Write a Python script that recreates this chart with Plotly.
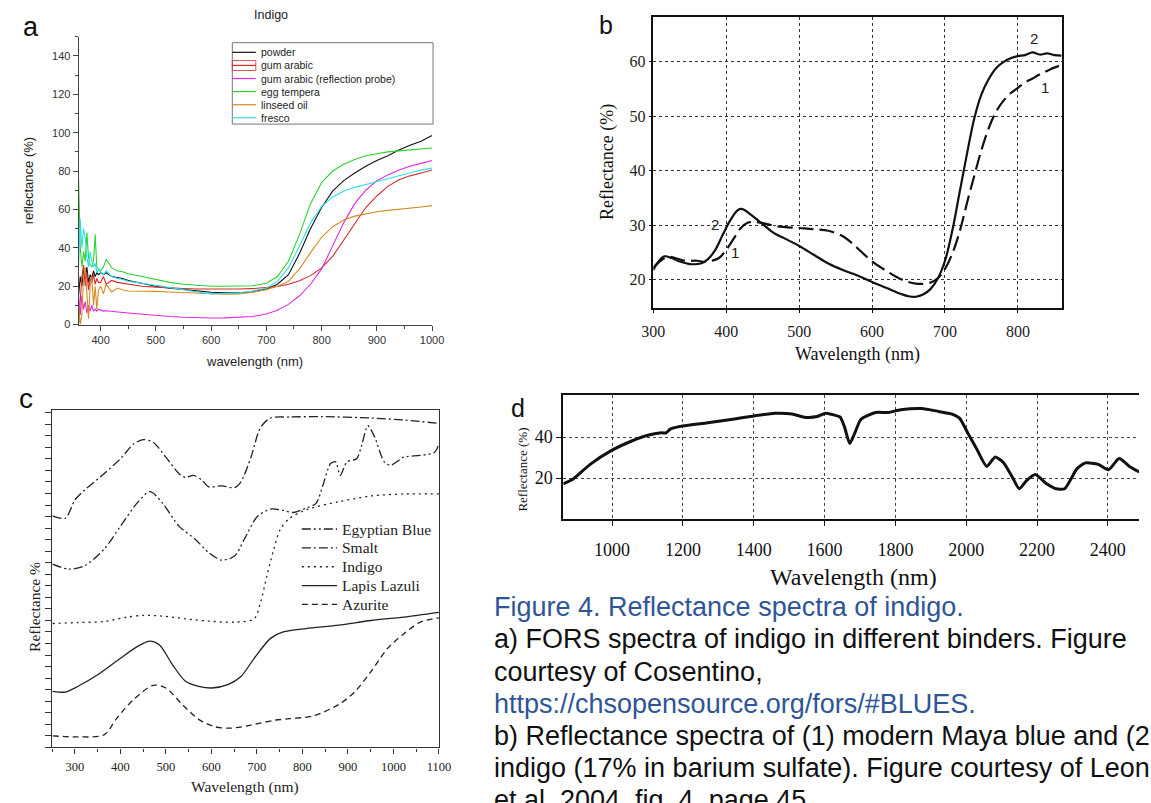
import plotly.graph_objects as go

W, H = 1151, 803

# ---------------- Panel a : FORS spectra of indigo in binders ----------------
A_WL = [360, 363, 366, 369, 372, 375, 378, 381, 384, 387, 390, 393, 396, 400,
        405, 410, 420, 430, 440, 450, 475, 500, 525, 550, 575, 600, 625, 650, 675,
        700, 720, 740, 760, 780, 800, 820, 840, 860, 880, 900, 920, 940, 960, 980, 1000]
A_NAMES = ["powder", "gum arabic", "gum arabic (reflection probe)", "egg tempera",
           "linseed oil", "fresco"]
A_POWDER = [15, 25, 20, 28, 24, 30, 22, 26, 24, 28, 25, 27, 26, 27,
            26, 27, 25, 24.5, 24, 23, 21.5, 20, 19, 18.2, 17.5, 16.8, 16.5, 16.5, 17,
            18.5, 21, 26, 37, 50, 61, 69.5, 75, 79, 82.5, 85.5, 88, 91, 93.5, 95.5, 98.5]
A_GUM = [0, 15, 25, 31, 20, 27, 18, 24, 22, 26, 21, 24, 22, 22,
         25, 21, 23, 22, 21.5, 21, 20, 19.5, 19, 18.8, 18.5, 18.4, 18.4, 18.5, 18.7,
         19.2, 19.8, 21, 22.8, 25.5, 29.5, 35.5, 44, 53, 61, 67, 72, 75.5, 77.5, 79, 80.5]
A_PROBE = [15, 5, 15, 8, 12, 6, 10, 7, 10, 7, 8, 7, 8, 7.5,
           7, 7.2, 7, 6.8, 6.3, 6, 5.3, 4.7, 4.2, 3.8, 3.5, 3.4, 3.5, 3.7, 4.2,
           5.5, 7.5, 10.5, 15, 21, 29, 41, 53, 63, 70, 75, 78, 80.5, 82.5, 84, 85.5]
A_EGG = [76, 40, 30, 38, 33, 48, 35, 31, 30, 33, 47, 30, 29, 28,
         30, 34, 29.5, 28, 27.5, 26.5, 25, 23.5, 22, 21, 20.5, 20, 20, 20, 20.2,
         21.5, 25, 33, 47, 63, 74, 80, 83.5, 86, 88, 89, 90, 90.5, 91, 91.5, 92]
A_LINSEED = [10, 0, 5, 25, 30, 15, 3, 20, 25, 10, 20, 8, 18, 20,
             16, 21, 17, 19, 18, 17.5, 17.5, 17.3, 17, 16.7, 16.2, 15.8, 15.8, 16, 16.8,
             18.2, 20, 22.5, 29, 37.5, 45.5, 51, 54.5, 56.5, 57.8, 58.8, 59.5, 60, 60.8, 61.3, 62]
A_FRESCO = [30, 55, 40, 50, 45, 35, 30, 38, 33, 30, 32, 27, 29, 27,
            26, 28, 25, 24, 23.5, 22.5, 21.5, 20.5, 19.5, 18.2, 17, 16, 16.2, 16.5, 17.5,
            19, 22.5, 29.5, 41, 53, 61.5, 66.5, 69.5, 71.5, 73, 74.5, 76, 77.5, 79, 80.5, 81.5]
A_COLORS = ["#111111", "#d42a2a", "#e028e0", "#2ed12e", "#d68a22", "#28e0ea"]
A_SERIES = [A_POWDER, A_GUM, A_PROBE, A_EGG, A_LINSEED, A_FRESCO]

# ---------------- Panel b : Maya blue (1) and indigo (2) ----------------
B_WL1 = [300, 310, 320, 330, 340, 350, 360, 370, 380, 390, 400, 410, 420, 430, 440, 450,
         470, 500, 520, 540, 560, 570, 580, 600, 620, 640, 660, 680, 690, 700, 710, 720,
         730, 740, 750, 760, 770, 780, 790, 800, 810, 820, 830, 840, 850, 860]
B_R1 = [22.2, 23.5, 24.2, 24, 23.6, 23.5, 23.5, 23.3, 23.5, 24, 25.5, 27.5, 29.5, 30.5,
        30.6, 30.4, 29.8, 29.5, 29.3, 29, 28, 27, 25.8, 23.4, 21.6, 20.1, 19.3, 19.5, 20.3,
        22, 24.8, 28.8, 34, 39, 43.8, 47.8, 50.8, 52.8, 54.2, 55.2, 56.2, 56.9, 57.7, 58.3,
        58.9, 59.4]
B_WL2 = [300, 305, 315, 325, 335, 350, 365, 375, 385, 395, 405, 415, 420, 425, 435, 450,
         465, 480, 500, 520, 540, 560, 580, 600, 620, 640, 650, 660, 670, 680, 690, 700,
         710, 720, 730, 740, 750, 760, 770, 780, 790, 800, 810, 820, 830, 840, 850, 860]
B_R2 = [21.8, 23, 24.3, 24, 23.4, 22.9, 23, 23.8, 25.5, 28.2, 30.8, 32.7, 33, 32.8, 31.8,
        30.2, 28.6, 27.6, 26.2, 24.6, 23, 21.8, 20.8, 19.6, 18.5, 17.4, 17, 16.9, 17.3, 18.3,
        20.2, 23.5, 29, 36, 43, 49.5, 54, 56.8, 58.8, 59.9, 60.6, 61, 61.2, 61.7, 61.3, 61.5,
        61.2, 61.1]

# ---------------- Panel c : blue pigments ----------------
C_NAMES = ["Egyptian Blue", "Smalt", "Indigo", "Lapis Lazuli", "Azurite"]
C_EB_WL = [251, 286, 321, 364, 400, 436, 465, 493, 529, 565, 594, 622, 651, 672, 701, 730,
           758, 780, 808, 830, 844, 862, 873, 883, 898, 919, 930, 944, 959, 980, 994, 1023,
           1059, 1091, 1100]
C_EB_R = [54.3, 52.8, 53.8, 58.7, 65.5, 72.3, 75.8, 72.3, 65.5, 61.6, 57.7, 55.5, 56.7, 61.6,
          68.4, 70.6, 70.2, 69.6, 70.9, 72.3, 77.2, 84.1, 84.6, 80.6, 84.6, 85.5, 89.4, 95.3,
          91.9, 84.6, 83.6, 86, 86.5, 87.5, 90]
C_SM_WL = [251, 279, 300, 321, 364, 400, 429, 450, 472, 500, 529, 543, 561, 579, 594, 622,
           651, 665, 687, 708, 730, 772, 844, 951, 1023, 1100]
C_SM_R = [68.6, 67.9, 73.3, 76.2, 81.1, 85.5, 89.9, 91.2, 90.4, 86, 81.1, 80, 80.6, 79.2,
          77.2, 77.5, 77, 78.7, 86, 94.8, 97.6, 97.9, 98, 97.6, 97, 96]
C_IN_WL = [251, 307, 364, 415, 450, 493, 543, 594, 651, 694, 708, 722, 737, 751, 772, 808,
           880, 951, 1023, 1100]
C_IN_R = [36.7, 37, 37.3, 38.6, 39.1, 38.9, 38.1, 37.4, 37.1, 38.1, 43, 50.8, 58.7, 64.5,
          67.9, 70.4, 72.8, 74.5, 75.1, 75.1]
C_LL_WL = [251, 279, 307, 350, 400, 436, 465, 486, 515, 543, 572, 601, 636, 665, 694, 730,
           758, 808, 880, 951, 1023, 1100]
C_LL_R = [16.6, 16.4, 18.1, 21.5, 26.4, 29.8, 31.5, 30.3, 24.4, 19.6, 18.1, 17.6, 18.6, 21,
          26.4, 32.3, 34.2, 35.2, 36.2, 37.6, 38.6, 40]
C_AZ_WL = [251, 307, 364, 393, 429, 472, 500, 536, 572, 608, 644, 687, 737, 772, 823, 880,
           916, 951, 987, 1023, 1059, 1100]
C_AZ_R = [3.4, 3.1, 3.7, 8.8, 14.2, 18.4, 17.6, 12.7, 8.3, 6.1, 5.7, 6.6, 8, 8.5, 9.3, 12.7,
          16.6, 22.5, 29.3, 33.7, 37.1, 38.4]
C_DASHES = ["9px,3px,2px,3px,2px,3px", "9px,3px,2px,3px", "2px,4px", "solid", "6px,4px"]
C_SERIES = [(C_EB_WL, C_EB_R), (C_SM_WL, C_SM_R), (C_IN_WL, C_IN_R),
            (C_LL_WL, C_LL_R), (C_AZ_WL, C_AZ_R)]

# ---------------- Panel d : NIR spectrum ----------------
D_WL = [862, 891, 938, 1000, 1057, 1104, 1140, 1152, 1165, 1199, 1270, 1341, 1401, 1460,
        1508, 1543, 1579, 1603, 1626, 1644, 1656, 1671, 1685, 1703, 1744, 1780, 1815, 1874,
        1922, 1958, 1981, 2005, 2029, 2058, 2082, 2106, 2130, 2150, 2171, 2195, 2225, 2254,
        2278, 2313, 2337, 2373, 2402, 2432, 2461, 2489]
D_R = [17.2, 19.7, 26.7, 33.6, 38.2, 41, 42.1, 42.0, 44.0, 45.4, 47, 48.7, 50.3, 51.6,
       51.3, 49.7, 50, 51.6, 50.8, 49.7, 45.1, 36.9, 41.8, 48.7, 52, 52, 53.3, 53.9,
       52.5, 51.3, 49.2, 41.8, 34.4, 25.7, 30.3, 27.4, 20.5, 14.8, 18.9, 21.8, 17.5, 14.8,
       14.8, 24.6, 27.4, 26.7, 24.1, 29.5, 25.7, 23]

CAPTION = [
    ("Figure 4. Reflectance spectra of indigo.", "#2f5597"),
    ("a) FORS spectra of indigo in different binders. Figure", "#111111"),
    ("courtesy of Cosentino,", "#111111"),
    ("https://chsopensource.org/fors/#BLUES.", "#2f5597"),
    ("b) Reflectance spectra of (1) modern Maya blue and (2", "#111111"),
    ("indigo (17% in barium sulfate). Figure courtesy of Leon", "#111111"),
    ("et al. 2004, fig. 4, page 45.", "#111111"),
]


def fx(px):
    return px / W


def fy(py):
    return 1 - py / H


SANS = "Liberation Sans, Arial, sans-serif"
SERIF = "Liberation Serif, Times New Roman, serif"

fig = go.Figure()

for name, color, ys in zip(A_NAMES, A_COLORS, A_SERIES):
    fig.add_trace(go.Scatter(x=A_WL, y=ys, mode="lines", name=name,
                             line=dict(color=color, width=1.1),
                             xaxis="x", yaxis="y", showlegend=False))

fig.add_trace(go.Scatter(x=B_WL1, y=B_R1, mode="lines", name="1",
                         line=dict(color="#111", width=2.2, dash="15px,6px", shape="spline"),
                         xaxis="x2", yaxis="y2", showlegend=False))
fig.add_trace(go.Scatter(x=B_WL2, y=B_R2, mode="lines", name="2",
                         line=dict(color="#111", width=2.2, shape="spline"),
                         xaxis="x2", yaxis="y2", showlegend=False))

for name, dash, (xs, ys) in zip(C_NAMES, C_DASHES, C_SERIES):
    fig.add_trace(go.Scatter(x=xs, y=ys, mode="lines", name=name,
                             line=dict(color="#222", width=1.3, dash=dash,
                                       shape="spline", smoothing=0.8),
                             xaxis="x3", yaxis="y3", showlegend=False))

fig.add_trace(go.Scatter(x=D_WL, y=D_R, mode="lines", name="indigo",
                         line=dict(color="#111", width=3, shape="spline", smoothing=0.6),
                         xaxis="x4", yaxis="y4", showlegend=False))

ax_common = dict(zeroline=False, showgrid=False)

layout = dict(
    width=W, height=H, autosize=False,
    margin=dict(l=0, r=0, t=0, b=0),
    paper_bgcolor="white", plot_bgcolor="white",
    showlegend=False,
    # panel a
    xaxis=dict(domain=[fx(68), fx(429)], range=[360, 1000], anchor="y",
               showline=True, linecolor="#444", linewidth=1,
               ticks="outside", ticklen=5, tickcolor="#444", tick0=0, dtick=100,
               minor=dict(dtick=50, ticks="outside", ticklen=3, tickcolor="#444"),
               tickfont=dict(family=SANS, size=11, color="#333"), **ax_common),
    yaxis=dict(domain=[fy(327), fy(37)], range=[0, 150], anchor="x",
               showline=True, linecolor="#444", linewidth=1,
               ticks="outside", ticklen=5, tickcolor="#444", tick0=0, dtick=20,
               minor=dict(dtick=10, ticks="outside", ticklen=3, tickcolor="#444"),
               tickfont=dict(family=SANS, size=11, color="#333"), **ax_common),
    # panel b
    xaxis2=dict(domain=[fx(655), fx(1072)], range=[300, 860], anchor="y2",
                showline=True, mirror=True, linecolor="#111", linewidth=1.5,
                ticks="outside", ticklen=4, tickcolor="#111", tick0=300, dtick=100,
                showgrid=True, gridcolor="#333", griddash="dot", gridwidth=1,
                ticklabelstandoff=4,
                tickfont=dict(family=SERIF, size=16, color="#222"), zeroline=False),
    yaxis2=dict(domain=[fy(310), fy(17)], range=[14.9, 68.2], anchor="x2",
                showline=True, mirror=True, linecolor="#111", linewidth=1.5,
                ticks="outside", ticklen=3, tickcolor="#111",
                tickvals=[20, 30, 40, 50, 60],
                showgrid=True, gridcolor="#333", griddash="dot", gridwidth=1,
                tickfont=dict(family=SERIF, size=16, color="#222"), zeroline=False),
    # panel c
    xaxis3=dict(domain=[fx(41), fx(436)], range=[250, 1100], anchor="y3",
                showline=True, mirror=True, linecolor="#333", linewidth=1.3,
                ticks="outside", ticklen=5, tickcolor="#333", tick0=300, dtick=100,
                minor=dict(dtick=50, ticks="outside", ticklen=3, tickcolor="#333"),
                ticklabelstandoff=2,
                tickfont=dict(family=SERIF, size=12.5, color="#222"), **ax_common),
    yaxis3=dict(domain=[fy(753), fy(413)], range=[0, 100], anchor="x3",
                showline=True, mirror=True, linecolor="#333", linewidth=1.3,
                ticks="outside", ticklen=6, tickcolor="#333", tick0=0, dtick=3.42,
                showticklabels=False, **ax_common),
    # panel d
    xaxis4=dict(domain=[fx(563), 1], range=[862, 2488], anchor="y4",
                showline=True, mirror=True, linecolor="#111", linewidth=2,
                ticks="outside", ticklen=5, tickcolor="#111", tick0=1000, dtick=200,
                showgrid=True, gridcolor="#444", griddash="dot", gridwidth=1,
                ticklabelstandoff=8,
                tickfont=dict(family=SERIF, size=18, color="#111"), zeroline=False),
    yaxis4=dict(domain=[fy(523), fy(398)], range=[0, 60.5], anchor="x4",
                showline=True, linecolor="#111", linewidth=2,
                ticks="outside", ticklen=5, tickcolor="#111", tickvals=[20, 40],
                showgrid=True, gridcolor="#444", griddash="dot", gridwidth=1,
                tickfont=dict(family=SERIF, size=18, color="#111"), zeroline=False),
)
fig.update_layout(**layout)

ann = []


def text(t, x, y, size, family=SANS, color="#111", angle=0, xanchor="center",
         yanchor="middle"):
    ann.append(dict(text=t, x=fx(x), y=fy(y), xref="paper", yref="paper",
                    showarrow=False, xanchor=xanchor, yanchor=yanchor,
                    textangle=angle, font=dict(family=family, size=size, color=color)))


# panel letters
text("a", 19, 27, 27)
text("b", 607, 25, 25)
text("c", 14, 402, 28)
text("d", 517, 411, 25)

# panel a texts
text("Indigo", 265, 15, 12.5, color="#222")
text("wavelength (nm)", 248, 364, 13, color="#222")
text("reflectance (%)", 17, 182, 13, color="#222", angle=-90)

# panel b texts
text("Wavelength (nm)", 863, 357, 18, family=SERIF)
text("Reflectance (%)", 608, 163, 18, family=SERIF, angle=-90)
for lbl, wx, ry in [("2", 384.6, 30.2), ("2", 821.6, 64.3), ("1", 412, 25.1), ("1", 836.7, 55.2)]:
    ann.append(dict(text=lbl, x=wx, y=ry, xref="x2", yref="y2", showarrow=False,
                    font=dict(family=SANS, size=15, color="#222")))

# panel c texts
text("Wavelength (nm)", 238, 793, 15.5, family=SERIF, color="#222")
text("Reflectance %", 23, 612, 15.5, family=SERIF, color="#222", angle=-90)

# panel d texts
text("Wavelength (nm)", 859, 581, 24, family=SERIF)
text("Reflectance (%)", 521, 473, 13, family=SERIF, angle=-90)

# caption
for i, (line, col) in enumerate(CAPTION):
    text(line, 490, 612 + i * 32.3, 27, family=SANS, color=col, xanchor="left")

shapes = []
# legend panel a
shapes.append(dict(type="rect", xref="paper", yref="paper", x0=fx(225), x1=fx(430),
                   y0=fy(125), y1=fy(43), line=dict(color="#777", width=1)))
for i, (name, color) in enumerate(zip(A_NAMES, A_COLORS)):
    yy = 52.7 + i * 13.2
    shapes.append(dict(type="line", xref="paper", yref="paper", x0=fx(225), x1=fx(249),
                       y0=fy(yy), y1=fy(yy), line=dict(color=color, width=1.2)))
    text(name, 252, yy, 10.5, color="#222", xanchor="left")
shapes.append(dict(type="rect", xref="paper", yref="paper", x0=fx(225), x1=fx(249),
                   y0=fy(71), y1=fy(61), line=dict(color="#d42a2a", width=0.8)))
# legend panel c
for i, (name, dash) in enumerate(zip(C_NAMES, C_DASHES)):
    yy = 533 + i * 19
    shapes.append(dict(type="line", xref="paper", yref="paper", x0=fx(296), x1=fx(332),
                       y0=fy(yy), y1=fy(yy), line=dict(color="#222", width=1.3, dash=dash)))
    text(name, 335, yy, 15.5, family=SERIF, color="#222", xanchor="left")

fig.update_layout(annotations=ann, shapes=shapes)
fig.write_html("out.html")
